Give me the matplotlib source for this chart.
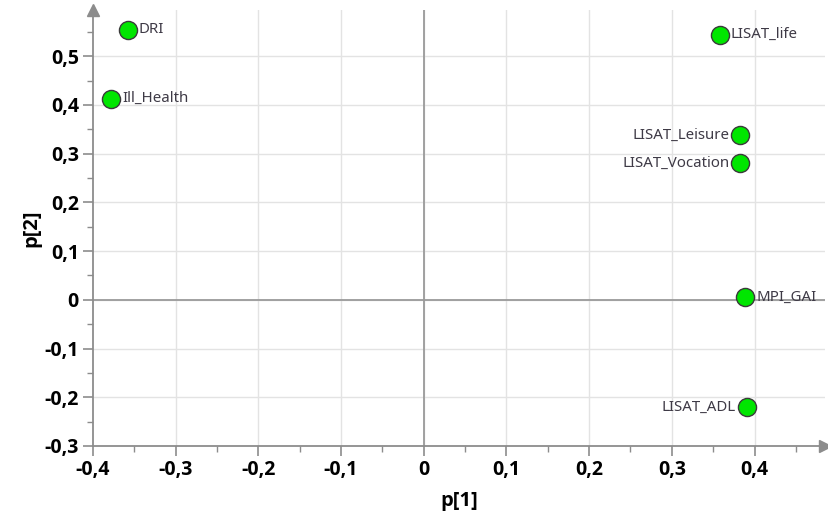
import numpy as np
import matplotlib
matplotlib.use("Agg")
import matplotlib.pyplot as plt
from matplotlib.ticker import MultipleLocator, FuncFormatter

plt.rcParams['font.family'] = ['Open Sans', 'DejaVu Sans']

# loadings
names = ["DRI", "Ill_Health", "LISAT_life", "LISAT_Leisure",
         "LISAT_Vocation", "MPI_GAI", "LISAT_ADL"]
p1 = [-0.358, -0.378, 0.358, 0.383, 0.383, 0.389, 0.391]
p2 = [0.554, 0.413, 0.544, 0.338, 0.280, 0.006, -0.220]
# which side the label sits on
label_side = ["right", "right", "right", "left", "left", "right", "left"]

x_range = (-0.4, 0.485)
y_range = (-0.3, 0.595)

fig = plt.figure(figsize=(8.29, 5.18), dpi=100, facecolor="white")
ax = fig.add_axes([0.112, 0.139, 0.883, 0.842])
ax.set_xlim(*x_range)
ax.set_ylim(*y_range)

axis_grey = "#8c8c8c"

# light grid on the major ticks
for gx in np.arange(-0.3, 0.45, 0.1):
    ax.axvline(gx, color="#e3e3e3", lw=1, zorder=0)
for gy in np.arange(-0.2, 0.55, 0.1):
    ax.axhline(gy, color="#e3e3e3", lw=1, zorder=0)

# zero lines
ax.axvline(0, color="#9a9a9a", lw=1.3, zorder=1)
ax.axhline(0, color="#9a9a9a", lw=1.3, zorder=1)

ax.scatter(p1, p2, s=170, color="#00e600", edgecolor="#3a3a3a",
           linewidth=1.0, zorder=3)

for name, x, y, side in zip(names, p1, p2, label_side):
    if side == "right":
        ax.annotate(name, (x, y), xytext=(8, 0), textcoords="offset points",
                    ha="left", va="center", fontsize=10.8, color="#3e3a46",
                    family=["Noto Sans", "DejaVu Sans"])
    else:
        ax.annotate(name, (x, y), xytext=(-8, 0), textcoords="offset points",
                    ha="right", va="center", fontsize=10.8, color="#3e3a46",
                    family=["Noto Sans", "DejaVu Sans"])

# spines: only left and bottom, grey, with arrow heads
for s in ["top", "right"]:
    ax.spines[s].set_visible(False)
for s in ["left", "bottom"]:
    ax.spines[s].set_color(axis_grey)
    ax.spines[s].set_linewidth(1.3)
ax.plot(1, 0, ">", transform=ax.transAxes, color=axis_grey, ms=9, clip_on=False)
ax.plot(0, 1, "^", transform=ax.transAxes, color=axis_grey, ms=9, clip_on=False)

ax.xaxis.set_major_locator(MultipleLocator(0.1))
ax.xaxis.set_minor_locator(MultipleLocator(0.05))
ax.yaxis.set_major_locator(MultipleLocator(0.1))
ax.yaxis.set_minor_locator(MultipleLocator(0.05))


def comma(v, pos):
    if abs(v) < 1e-9:
        return "0"
    return f"{v:.1f}".replace(".", ",")


ax.xaxis.set_major_formatter(FuncFormatter(comma))
ax.yaxis.set_major_formatter(FuncFormatter(comma))
ax.set_xticks([t for t in np.arange(-0.4, 0.45, 0.1)])
ax.set_yticks([t for t in np.arange(-0.3, 0.55, 0.1)])
ax.tick_params(which="major", length=7, width=1.2, color=axis_grey,
               labelsize=14, pad=3)
ax.tick_params(which="minor", length=4, width=1.0, color=axis_grey)
for lab in ax.get_xticklabels() + ax.get_yticklabels():
    lab.set_fontweight("bold")

ax.set_xlabel("p[1]", fontsize=14.5, fontweight="bold", labelpad=8)
ax.set_ylabel("p[2]", fontsize=14.5, fontweight="bold", labelpad=2)

fig.savefig("out.png", dpi=100, facecolor="white")
